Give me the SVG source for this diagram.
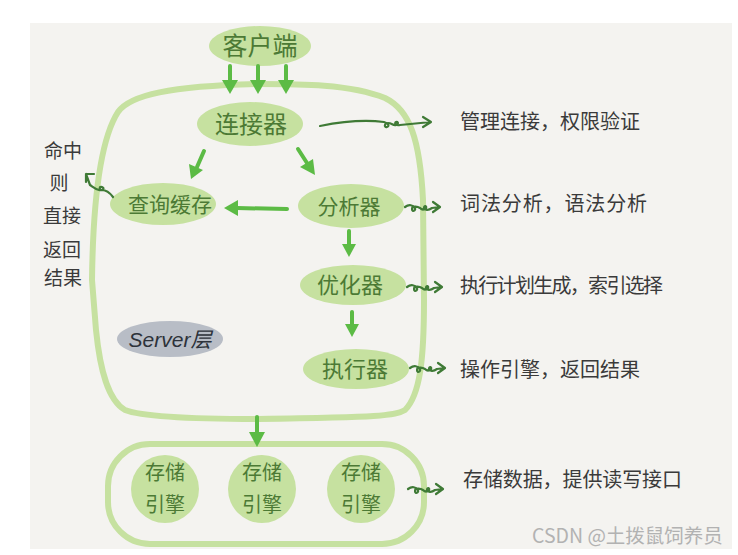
<svg xmlns="http://www.w3.org/2000/svg" width="738" height="555" viewBox="0 0 738 555">
<defs>
<style>
.bg{fill:#f4f3f0}
.box{fill:none;stroke:#c6e1a0;stroke-width:6;stroke-linecap:round;stroke-linejoin:round}
.node{fill:#c6e1a0}
.gray{fill:#b8bdc6}
.nt{font-family:"Noto Sans CJK SC","Noto Sans",sans-serif;fill:#4c7a35;text-anchor:middle}
.at{font-family:"Noto Sans CJK SC","Noto Sans",sans-serif;fill:#3a3a3a;font-size:20px}
.lt{font-family:"Noto Sans CJK SC","Noto Sans",sans-serif;fill:#3a3a3a;font-size:19px;text-anchor:middle}
.arr{fill:none;stroke:#5cbb45;stroke-width:4;stroke-linecap:round}
.head{fill:#5cbb45}
.curl{fill:none;stroke:#3f7a36;stroke-width:2.2;stroke-linecap:round;stroke-linejoin:round}
.wm{font-family:"Noto Sans CJK SC","Noto Sans",sans-serif;fill:#b2b2b2;font-size:19.5px}
</style>
<path id="curlS" d="M0 0 c4 -3 8 -2 10 1 c1 3 -3 4 -3 1 c0 -3 5 -3 8 -1 c2 2 4 2 6 0 c1 -2 -2 -3 -2 0 c1 3 5 2 8 0 L35 0 M28 -5 L35 0 L28 5"/>
</defs>
<rect width="738" height="555" fill="#ffffff"/>
<rect class="bg" x="30" y="23" width="702" height="526"/>

<g id="server-box">
<path class="box" d="M258 84 C300 84 350 84 385 98 C410 110 420 140 423 200 L424 300 C424 360 420 395 405 410 C395 416 380 417 258 419 C180 419 140 416 125 410 C108 400 100 370 96 330 L92 280 C93 200 100 140 118 112 C130 95 170 86 258 84 Z"/>
</g>
<g id="storage-box">
<rect class="box" x="108" y="444" width="316" height="100" rx="42"/>
</g>

<g id="client">
<ellipse class="node" cx="260" cy="46" rx="51" ry="20"/>
<text class="nt" x="260" y="55" font-size="25">客户端</text>
</g>
<g id="connector">
<ellipse class="node" cx="250" cy="124" rx="53" ry="22"/>
<text class="nt" x="251" y="133" font-size="24">连接器</text>
</g>
<g id="query-cache">
<ellipse class="node" cx="163" cy="204" rx="53" ry="21"/>
<text class="nt" x="170" y="212" font-size="21">查询缓存</text>
</g>
<g id="parser">
<ellipse class="node" cx="351" cy="206" rx="53" ry="22"/>
<text class="nt" x="349" y="214" font-size="21">分析器</text>
</g>
<g id="optimizer">
<ellipse class="node" cx="353" cy="285" rx="53" ry="20"/>
<text class="nt" x="350" y="293" font-size="22">优化器</text>
</g>
<g id="executor">
<ellipse class="node" cx="356" cy="369" rx="53" ry="20"/>
<text class="nt" x="355" y="377" font-size="22">执行器</text>
</g>
<g id="server-label">
<ellipse class="gray" cx="170" cy="339" rx="53" ry="18"/>
<text x="170" y="347" font-size="21" text-anchor="middle" font-style="italic" font-family="'Liberation Sans','Noto Sans CJK SC',sans-serif" fill="#2d323a">Server层</text>
</g>
<g id="engine-1">
<ellipse class="node" cx="165" cy="489" rx="34" ry="34"/>
<text class="nt" x="165" y="480" font-size="20">存储</text>
<text class="nt" x="165" y="512" font-size="20">引擎</text>
</g>
<g id="engine-2">
<ellipse class="node" cx="262" cy="489" rx="34" ry="34"/>
<text class="nt" x="262" y="480" font-size="20">存储</text>
<text class="nt" x="262" y="512" font-size="20">引擎</text>
</g>
<g id="engine-3">
<ellipse class="node" cx="361" cy="489" rx="34" ry="34"/>
<text class="nt" x="361" y="480" font-size="20">存储</text>
<text class="nt" x="361" y="512" font-size="20">引擎</text>
</g>

<g id="connectors">
<line class="arr" x1="230" y1="66" x2="230" y2="82"/><polygon class="head" points="222,80 238,80 230,94"/>
<line class="arr" x1="258" y1="66" x2="258" y2="82"/><polygon class="head" points="250,80 266,80 258,94"/>
<line class="arr" x1="286" y1="66" x2="286" y2="82"/><polygon class="head" points="278,80 294,80 286,94"/>
<line class="arr" x1="204" y1="151" x2="197" y2="167"/><polygon class="head" points="189,164 203,170 191,179"/>
<line class="arr" x1="298" y1="149" x2="307" y2="163"/><polygon class="head" points="300,167 313,159 315,175"/>
<line class="arr" x1="287" y1="209" x2="237" y2="208"/><polygon class="head" points="238,200 238,216 224,208"/>
<line class="arr" x1="349" y1="231" x2="349" y2="246"/><polygon class="head" points="342,244 356,244 349,257"/>
<line class="arr" x1="352" y1="312" x2="352" y2="326"/><polygon class="head" points="345,324 359,324 352,337"/>
<line class="arr" x1="257" y1="417" x2="257" y2="434"/><polygon class="head" points="249,432 265,432 257,447"/>
<path class="curl" d="M320 126 C345 121 368 120 384 122 c4 1 6 4 3 5 c-3 1 -3 -4 1 -4 c4 0 5 3 8 2 c3 -1 2 -4 0 -3 c-2 1 0 4 4 3 L431 122 M423 117 L431 122 L423 127"/>
<use href="#curlS" class="curl" x="405" y="207"/>
<use href="#curlS" class="curl" x="407" y="287"/>
<use href="#curlS" class="curl" x="410" y="368"/>
<use href="#curlS" class="curl" x="408" y="489"/>
<path class="curl" d="M113 197 C110 193 106 190 102 190 c-3 0 -3 -4 0 -3 c3 1 1 4 -3 3 c-4 -1 -6 -3 -9 -5 L86 174 M86 182 L86 174 L94 174"/>
</g>

<g id="annotations">
<text class="at" x="460" y="129" textLength="180">管理连接，权限验证</text>
<text class="at" x="460" y="211" textLength="187">词法分析，语法分析</text>
<text class="at" x="460" y="293" textLength="203">执行计划生成，索引选择</text>
<text class="at" x="460" y="377" textLength="180">操作引擎，返回结果</text>
<text class="at" x="463" y="487" textLength="219">存储数据，提供读写接口</text>
<text class="lt" x="63" y="158">命中</text>
<text class="lt" x="59" y="190">则</text>
<text class="lt" x="62" y="223">直接</text>
<text class="lt" x="62" y="257">返回</text>
<text class="lt" x="63" y="285">结果</text>
</g>
<text class="wm" x="532" y="543">CSDN @土拨鼠饲养员</text>
</svg>
